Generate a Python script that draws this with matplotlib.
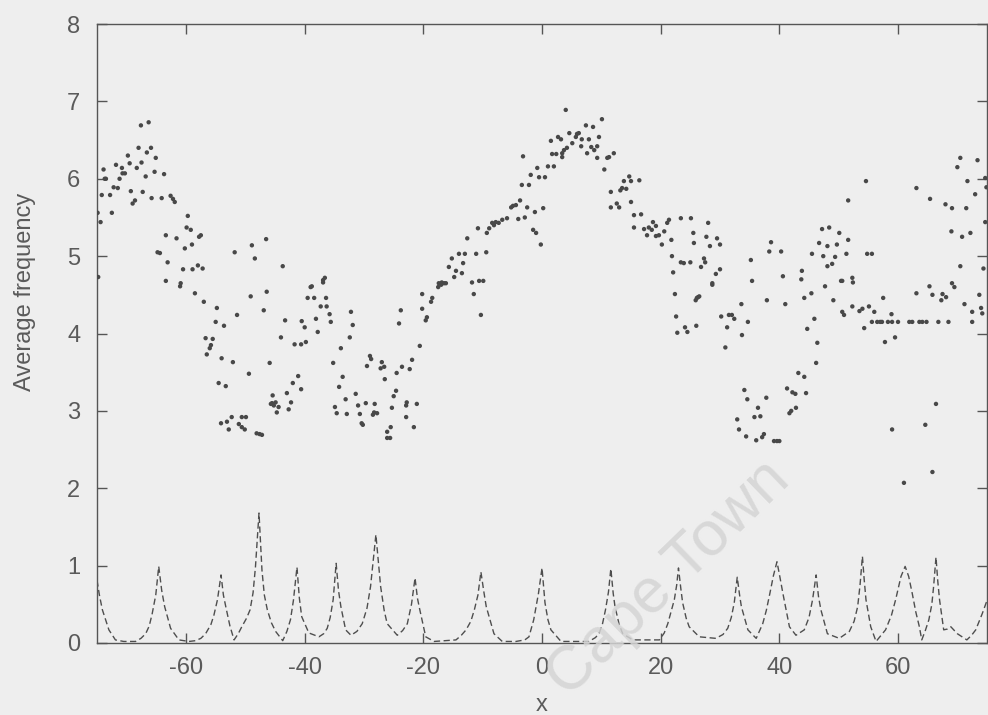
import matplotlib
matplotlib.use("Agg")
import matplotlib.pyplot as plt

# Average frequency estimates (scatter)
freq_x = [
    -74.9, -74.4, -74.8, -74.2, -73.9, -73.7, -73.5, -72.8, -72.5, -72.2, -71.8, -71.5, -71.2, -70.8, -70.7,
    -70.3, -69.8, -69.5, -69.3, -69.0, -68.6, -68.3, -68.0, -67.6, -67.5, -67.3, -66.8, -66.6, -66.3, -65.9,
    -65.8, -65.3, -65.1, -64.8, -64.4, -64.1, -63.7, -63.4, -63.4, -63.1, -62.6, -62.2, -61.9, -61.6, -61.0,
    -60.9, -60.5, -60.2, -59.9, -59.7, -59.2, -59.0, -58.9, -58.5, -58.0, -57.8, -57.5, -57.2, -57.0, -56.7,
    -56.5, -56.0, -55.8, -55.5, -55.0, -54.8, -54.5, -54.1, -54.0, -53.6, -53.3, -53.1, -52.8, -52.3, -52.1,
    -51.8, -51.4, -51.1, -50.6, -50.6, -50.1, -49.9, -49.4, -49.1, -48.9, -48.4, -48.1, -47.6, -47.2, -46.9,
    -46.5, -46.4, -45.9, -45.7, -45.5, -45.4, -45.2, -44.9, -44.7, -44.4, -44.0, -43.7, -43.3, -43.0, -42.7,
    -42.3, -42.0, -41.7, -41.1, -40.6, -40.6, -40.5, -40.0, -39.8, -39.5, -39.0, -38.8, -38.4, -38.1, -37.8,
    -37.3, -36.9, -36.9, -36.6, -36.4, -36.3, -35.8, -35.6, -35.2, -34.9, -34.6, -34.2, -33.9, -33.6, -33.1,
    -32.9, -32.4, -32.2, -31.9, -31.4, -31.0, -30.7, -30.4, -30.2, -29.7, -29.5, -29.0, -28.8, -28.5, -28.3,
    -28.2, -27.8, -27.2, -27.0, -26.6, -26.5, -26.1, -26.1,
    -25.6, -25.5, -25.3, -25.0, -24.6, -24.5, -24.1, -23.8, -23.6, -22.9, -22.9, -22.8, -22.3, -21.9, -21.6,
    -21.1, -20.6, -20.2, -20.2, -19.6, -19.4, -18.7, -18.5, -17.5, -17.4, -17.0, -16.9, -16.5, -16.2, -15.7,
    -15.2, -14.8, -14.5, -14.0, -13.5, -13.3, -13.0, -12.6, -11.8, -11.5, -11.1, -10.8, -10.6, -10.3, -9.9,
    -9.4, -9.3, -8.9, -8.4, -8.1, -7.8, -7.3, -6.7, -5.9, -5.2, -4.9, -4.4, -4.0, -3.7, -3.4,
    -3.2, -2.9, -2.5, -2.2, -1.9, -1.5, -1.2, -1.0, -0.8, -0.5, -0.2, 0.2, 0.5, 1.0, 1.5,
    1.7, 2.0, 2.4, 2.7, 3.2, 3.4, 3.4, 3.7, 4.0, 4.2, 4.6, 5.1, 5.7, 5.9, 6.2,
    6.6, 6.7, 7.4, 7.6, 7.9, 8.3, 8.6, 8.8, 9.3, 9.3, 9.6, 10.1, 10.5, 11.0, 11.3,
    11.6, 11.6, 12.1, 12.6, 13.0, 13.2, 13.5, 13.8, 14.2, 14.7, 15.0, 15.0, 15.5, 15.5, 16.4,
    16.7, 17.2, 17.7, 18.0, 18.5, 18.7, 19.2, 19.2, 19.7, 20.2, 20.6, 21.1, 21.4, 21.8, 21.9,
    22.1, 22.4, 22.6, 22.8, 23.4, 23.4, 23.9, 24.1, 24.5,
    25.0, 25.1, 25.5, 25.6, 25.9, 26.0, 26.1, 26.3, 26.5, 26.8, 27.3, 27.5, 27.7, 28.0, 28.3,
    28.7, 28.7, 29.3, 29.5, 30.0, 30.0, 30.2, 30.9, 31.2, 31.5, 32.0, 32.4, 32.9, 33.2, 33.6,
    33.7, 34.1, 34.4, 34.6, 34.7, 35.2, 35.4, 35.8, 36.1, 36.4, 36.8, 37.1, 37.4, 37.8, 37.9,
    38.3, 38.6, 39.1, 39.6, 40.0, 40.3, 40.6, 41.0, 41.3, 41.7, 42.0, 42.2, 42.7, 42.8, 43.2,
    43.7, 43.8, 44.2, 44.2, 44.5, 44.7, 45.4, 45.5, 45.9, 46.2, 46.4, 46.7, 47.2, 47.4, 47.7,
    48.1, 48.1, 48.4, 48.9, 49.1, 49.4, 49.7, 50.1, 50.4, 50.6, 50.6, 50.9, 51.3, 51.6, 51.6,
    52.3, 52.3, 52.4, 53.5, 54.0, 54.3, 54.6, 54.8, 55.1, 55.6, 55.6, 56.0, 56.5, 57.0, 57.3,
    57.5, 57.8, 58.3, 58.9, 59.0, 59.0, 59.5, 60.0, 61.0, 61.9, 62.4, 63.1, 63.1, 63.6, 64.1,
    64.6, 64.8, 65.3, 65.4, 65.8, 65.8, 66.4, 66.8, 67.3, 67.5, 68.0, 68.1, 68.5, 69.0, 69.1,
    69.1, 69.5, 70.0, 70.5, 70.5, 70.8, 71.2, 71.5, 71.7, 72.2, 72.5, 72.5, 73.0, 73.4, 73.7,
    74.0, 74.2, 74.4, 74.7, 74.7, 74.9,
]
freq_y = [
    5.56, 5.44, 4.73, 5.79, 6.12, 6.00, 6.00, 5.79, 5.56, 5.89, 6.18, 5.88, 6.00, 6.14, 6.07,
    6.07, 6.30, 6.20, 5.84, 5.68, 5.72, 6.14, 6.40, 6.69, 6.21, 5.83, 6.03, 6.34, 6.73, 6.40,
    5.75, 6.09, 6.27, 5.05, 5.04, 5.75, 6.06, 5.27, 4.68, 4.92, 5.78, 5.74, 5.70, 5.23, 4.61,
    4.65, 4.83, 5.10, 5.37, 5.52, 5.34, 5.15, 4.83, 4.52, 4.88, 5.25, 5.27, 4.84, 4.41, 3.94,
    3.73, 3.81, 3.85, 3.93, 4.15, 4.33, 3.36, 2.84, 3.68, 4.10, 3.32, 2.86, 2.76, 2.92, 3.63,
    5.05, 4.24, 2.83, 2.92, 2.79, 2.76, 2.92, 3.48, 4.48, 5.14, 4.97, 2.71, 2.70, 2.69, 4.30,
    5.22, 4.54, 3.62, 3.09, 3.10, 3.20, 3.07, 3.11, 2.98, 3.05, 3.95, 4.87, 4.17, 3.23, 3.02,
    3.11, 3.36, 3.86, 3.45, 3.28, 3.86, 4.16, 4.08, 3.89, 4.46, 4.60, 4.61, 4.46, 4.19, 4.02,
    4.35, 4.66, 4.69, 4.72, 4.46, 4.35, 4.25, 4.15, 3.62, 3.05, 2.97, 3.31, 3.81, 3.44, 3.15,
    2.96, 3.95, 4.28, 4.11, 3.22, 3.07, 2.96, 2.84, 2.82, 3.10, 3.58, 3.71, 3.67, 2.95, 2.98,
    3.09, 2.97, 3.55, 3.63, 3.57, 3.41, 2.73, 2.65,
    2.65, 2.79, 3.04, 3.19, 3.26, 3.49, 4.13, 4.30, 3.57, 3.07, 2.92, 3.11, 3.54, 3.66, 2.79,
    3.09, 3.84, 4.51, 4.32, 4.17, 4.21, 4.41, 4.46, 4.60, 4.65, 4.63, 4.66, 4.65, 4.65, 4.86,
    4.97, 4.73, 4.81, 5.03, 4.78, 4.91, 5.03, 5.23, 4.66, 4.51, 5.03, 5.36, 4.68, 4.24, 4.68,
    5.05, 5.30, 5.36, 5.43, 5.40, 5.44, 5.43, 5.47, 5.49, 5.63, 5.65, 5.66, 5.48, 5.72, 5.92,
    6.29, 5.50, 5.63, 5.92, 6.05, 5.34, 5.57, 5.30, 6.14, 6.02, 5.15, 5.62, 6.02, 6.16, 6.49,
    6.32, 6.16, 6.32, 6.54, 6.51, 6.33, 6.28, 6.37, 6.89, 6.40, 6.59, 6.46, 6.54, 6.58, 6.59,
    6.42, 6.51, 6.69, 6.33, 6.51, 6.41, 6.67, 6.37, 6.42, 6.27, 6.54, 6.77, 6.12, 6.27, 6.28,
    5.83, 5.63, 6.33, 5.68, 5.63, 5.85, 5.88, 5.97, 5.87, 6.03, 5.97, 5.70, 5.53, 5.37, 5.98,
    5.54, 5.35, 5.27, 5.37, 5.34, 5.44, 5.39, 5.26, 5.27, 5.15, 5.32, 5.43, 5.47, 5.21, 5.00,
    4.79, 4.51, 4.22, 4.01, 4.92, 5.49, 4.91, 4.08, 4.02,
    4.92, 5.49, 5.30, 5.17, 4.43, 4.10, 4.46, 4.47, 4.48, 4.86, 4.97, 4.92, 5.25, 5.43, 5.13,
    4.65, 4.63, 4.77, 5.23, 5.15, 4.83, 4.22, 3.82, 4.08, 4.24, 4.24, 4.19, 2.89, 2.76, 4.38,
    3.98, 3.27, 2.67, 3.15, 4.15, 4.95, 4.68, 2.92, 2.62, 3.04, 2.93, 2.66, 2.70, 3.17, 4.43,
    5.06, 5.18, 2.61, 2.61, 2.61, 5.06, 4.74, 4.38, 3.29, 2.97, 3.00, 3.24, 3.22, 3.04, 3.49,
    4.70, 4.81, 3.44, 4.46, 3.23, 4.06, 4.52, 5.03, 4.19, 3.62, 3.88, 5.17, 5.35, 5.00, 4.61,
    5.13, 4.87, 5.37, 4.90, 4.43, 4.99, 5.15, 5.30, 4.68, 4.28, 4.68, 4.24, 5.03, 5.72, 5.21,
    4.72, 4.35, 4.66, 4.29, 4.32, 4.07, 5.97, 5.03, 4.35, 5.03, 4.15, 4.28, 4.15, 4.15, 4.15,
    4.46, 3.89, 4.15, 4.25, 4.15, 2.76, 3.95, 4.15, 2.07, 4.15, 4.15, 5.88, 4.52, 4.15, 4.15,
    2.82, 4.15, 4.61, 5.74, 4.50, 2.21, 3.09, 4.15, 4.43, 4.51, 5.67, 4.47, 4.15, 5.32, 5.62,
    4.65, 4.60, 6.15, 6.27, 4.87, 5.25, 4.38, 5.62, 5.97, 5.30, 4.28, 4.15, 5.80, 6.24, 4.50,
    4.33, 4.26, 4.84, 6.01, 5.44, 5.89,
]

# Spectrum curve (dashed)
spec_x = [
    -75.0, -74.6, -74.1, -73.0, -71.9, -70.5, -68.5, -67.6, -66.8, -66.2, -65.7, -65.1, -64.6, -64.1, -63.6,
    -62.6, -61.2, -59.5, -58.4, -57.5, -56.7, -55.8, -55.3, -54.7, -54.1, -53.7, -53.3, -52.6, -51.9, -51.2,
    -50.6, -49.8, -49.2, -48.7, -48.3, -47.7, -47.2, -46.8, -46.3, -45.6, -44.9, -43.7, -43.0, -42.4, -41.9,
    -41.3, -40.9, -40.5, -39.3, -37.6, -36.8, -36.2, -35.7, -35.2, -34.7, -34.3, -33.9, -33.1, -32.2, -31.2,
    -30.3, -29.5, -28.9, -28.0, -27.2, -26.6, -26.1, -24.4, -23.5, -22.7, -22.0, -21.4, -21.0, -20.6, -19.6,
    -18.2, -14.5, -13.6, -12.8, -12.0, -11.4, -10.8, -10.3, -9.8, -9.4, -8.1, -6.7, -4.4, -2.9, -2.2,
    -1.4, -0.6, 0.0, 0.5, 1.0, 1.5, 3.2, 7.9, 9.0, 9.6, 10.2, 10.7, 11.2, 11.6, 12.0,
    12.3, 13.0, 13.6, 15.3, 19.8, 20.6, 21.2, 22.3, 22.7, 23.0, 23.4, 23.7, 24.3, 24.8, 26.5,
    29.3, 30.5, 31.3, 31.9, 32.4, 32.9, 33.3, 33.6, 34.7, 36.1, 37.2, 37.8, 38.4, 39.0, 39.6,
    40.1, 40.6, 41.7, 42.8, 44.2, 45.0, 45.6, 46.2, 46.6, 47.0, 48.1, 50.1, 51.8, 52.6, 53.2,
    53.6, 54.0, 54.3, 54.6, 55.4, 56.3, 57.9, 58.9, 59.6, 60.5, 61.2, 61.8, 62.4, 63.0, 63.6,
    64.0, 64.6, 65.2, 65.7, 66.0, 66.4, 66.7, 67.0, 67.7, 68.3, 68.9, 70.0, 71.6, 72.4, 73.1,
    74.2, 75.0,
]
spec_y = [
    0.81, 0.62, 0.43, 0.17, 0.04, 0.02, 0.02, 0.06, 0.12, 0.22, 0.38, 0.62, 0.99, 0.68, 0.47,
    0.19, 0.04, 0.02, 0.03, 0.06, 0.12, 0.24, 0.36, 0.56, 0.88, 0.62, 0.47, 0.22, 0.04, 0.12,
    0.21, 0.32, 0.43, 0.65, 0.98, 1.68, 0.94, 0.62, 0.43, 0.26, 0.15, 0.03, 0.15, 0.30, 0.55,
    0.98, 0.58, 0.34, 0.13, 0.08, 0.12, 0.19, 0.33, 0.56, 1.03, 0.68, 0.47, 0.17, 0.10, 0.15,
    0.25, 0.45, 0.73, 1.40, 0.73, 0.42, 0.25, 0.10, 0.16, 0.25, 0.50, 0.84, 0.58, 0.43, 0.08,
    0.02, 0.04, 0.10, 0.17, 0.28, 0.43, 0.62, 0.92, 0.66, 0.47, 0.12, 0.02, 0.02, 0.04, 0.08,
    0.30, 0.64, 0.97, 0.52, 0.30, 0.17, 0.02, 0.02, 0.07, 0.12, 0.25, 0.43, 0.66, 0.96, 0.64,
    0.47, 0.24, 0.12, 0.04, 0.04, 0.13, 0.25, 0.56, 0.75, 0.97, 0.70, 0.52, 0.32, 0.21, 0.08,
    0.06, 0.11, 0.19, 0.33, 0.52, 0.85, 0.62, 0.47, 0.17, 0.06, 0.25, 0.42, 0.64, 0.87, 1.05,
    0.85, 0.64, 0.21, 0.10, 0.17, 0.33, 0.56, 0.88, 0.60, 0.43, 0.12, 0.06, 0.15, 0.28, 0.47,
    0.75, 1.12, 0.82, 0.56, 0.21, 0.02, 0.17, 0.36, 0.56, 0.86, 0.99, 0.86, 0.64, 0.40, 0.21,
    0.04, 0.16, 0.30, 0.50, 0.73, 1.11, 0.80, 0.56, 0.17, 0.18, 0.21, 0.12, 0.04, 0.10, 0.17,
    0.38, 0.55,
]

x_ticks = [-60, -40, -20, 0, 20, 40, 60]
y_ticks = [0, 1, 2, 3, 4, 5, 6, 7, 8]

ink = "#555555"
label_ink = "#5a5a5a"
paper = "#eeeeee"

plt.rcParams["font.family"] = ["Liberation Sans", "DejaVu Sans"]
plt.rcParams["axes.unicode_minus"] = False

fig = plt.figure(figsize=(9.88, 7.15), dpi=100, facecolor=paper)
ax = fig.add_axes([0.0982, 0.1007, 0.9008, 0.8657], facecolor=paper)

ax.plot(spec_x, spec_y, color="#4e4e4e", lw=1.0, ls=(0, (4.5, 2.5)), zorder=2)
ax.scatter(freq_x, freq_y, s=10, color="#484848", edgecolors="none", zorder=3)

ax.set_xlim(-75, 75)
ax.set_ylim(0, 8)
ax.set_xticks(x_ticks)
ax.set_yticks(y_ticks)

for side in ax.spines.values():
    side.set_color(ink)
    side.set_linewidth(1.0)

ax.tick_params(axis="both", direction="in", length=7, width=1.0, colors=ink,
               labelcolor=label_ink, labelsize=17, top=True, right=True)
ax.tick_params(axis="x", pad=10)
ax.tick_params(axis="y", pad=12)

ax.set_xlabel("x", fontsize=17, color=label_ink, va="top")
ax.xaxis.set_label_coords(0.5, -0.083)
ax.set_ylabel("Average frequency", fontsize=17, color=label_ink, va="center")
ax.yaxis.set_label_coords(-0.081, 0.567)

# diagonal watermark
fig.text(0.8016, 0.326, "Cape Town", fontsize=45, color="#d4d4d4",
         rotation=44, rotation_mode="anchor", ha="right", va="baseline",
         alpha=0.85, zorder=10)

fig.savefig("out.png", dpi=100, facecolor=paper)
